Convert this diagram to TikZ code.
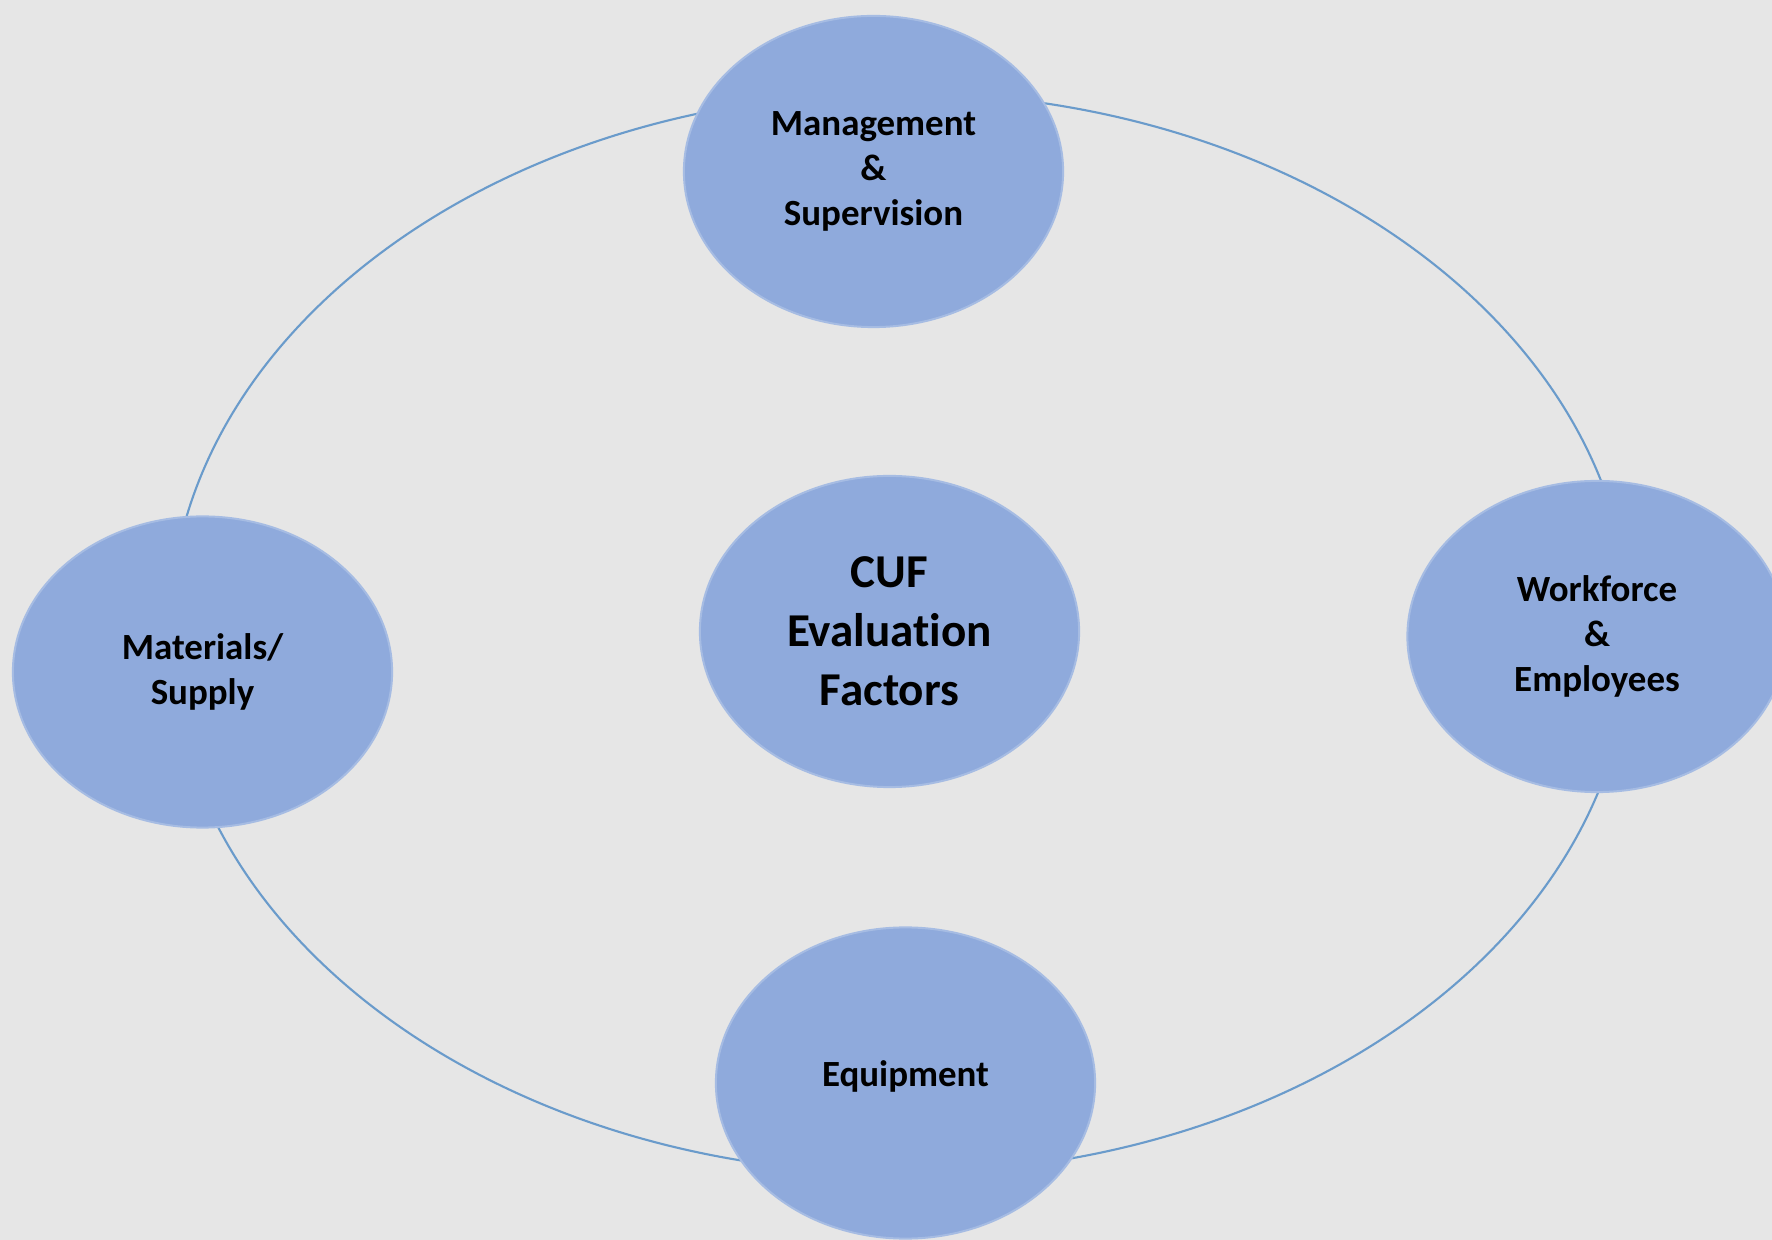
\documentclass[tikz,border=0pt]{standalone}
\usepackage{fontspec}
\setmainfont{Carlito}[Ligatures=NoCommon]
\usetikzlibrary{shapes.geometric}
\definecolor{bgc}{HTML}{E6E6E6}
\definecolor{fillc}{HTML}{8FAADC}
\definecolor{edgec}{HTML}{A6BCE3}
\definecolor{ringcol}{HTML}{6A9BCB}
\begin{document}
\begin{tikzpicture}[x=0.01cm,y=-0.01cm,
  factor/.style={ellipse, fill=fillc, draw=edgec, line width=0.57pt,
    minimum width=3.79cm, minimum height=3.11cm, inner sep=0pt, align=center,
    font=\fontsize{10.5}{12.8}\selectfont\bfseries},
  hub/.style={factor, font=\fontsize{13.4}{16.8}\selectfont\bfseries},
  ring/.style={draw=ringcol, line width=0.6pt}]
\fill[bgc] (0,0) rectangle (1772,1240);
\useasboundingbox (0,0) rectangle (1772,1240);
\clip (0,0) rectangle (1772,1240);
\coordinate (ringc) at (900,633);
\draw[ring] (ringc) ellipse [x radius=7.30cm, y radius=5.40cm];
\node[factor] (mgmt) at (873.5,171.5) {Management\\\&\\Supervision};
\node[hub] (cuf) at (889.5,631.5) {CUF\\Evaluation\\Factors};
\node[factor] (mat) at (202.5,672) {Materials/\\Supply};
\node[factor] (work) at (1597,636.5) {Workforce\\\&\\Employees};
\node[factor, text height=0.6em, text depth=0.4em] (equip) at (905.5,1083) {Equipment};
\end{tikzpicture}
\end{document}
